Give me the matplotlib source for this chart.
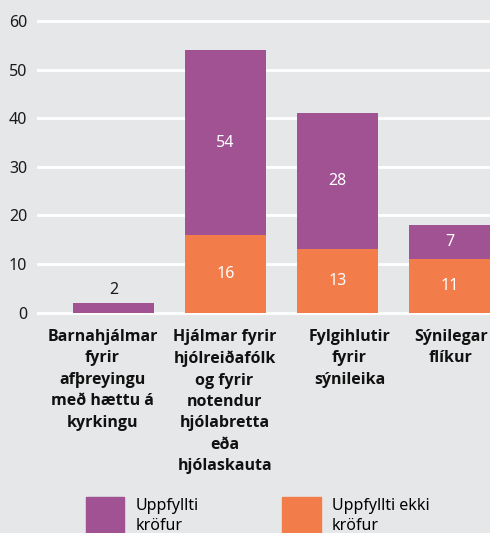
import matplotlib
matplotlib.use("Agg")
import matplotlib.pyplot as plt
import matplotlib.transforms as mtransforms
from matplotlib.patches import Patch

# gögn
categories = [
    "Barnahjálmar\nfyrir\nafþreyingu\nmeð hættu á\nkyrkingu",
    "Hjálmar fyrir\nhjólreiðafólk\nog fyrir\nnotendur\nhjólabretta\neða\nhjólaskauta",
    "Fylgihlutir\nfyrir\nsýnileika",
    "Sýnilegar\nflíkur",
]
ekki = [0, 16, 13, 11]          # Uppfyllti ekki kröfur
uppfyllti = [2, 38, 28, 7]      # Uppfyllti kröfur (hæð súlu)
ekki_labels = ["", "16", "13", "11"]
uppfyllti_labels = ["2", "54", "28", "7"]
yticks = [0, 10, 20, 30, 40, 50, 60]
legend_labels = ["Uppfyllti\nkröfur", "Uppfyllti ekki\nkröfur"]

PURPLE = "#a05292"
ORANGE = "#f37d4a"
BG = "#e6e7e8"
FS = 11.5

plt.rcParams["font.family"] = ["Noto Sans", "DejaVu Sans"]

fig = plt.figure(figsize=(4.9, 5.33), dpi=100, facecolor=BG)
ax = fig.add_axes([0.0755, 0.4088, 0.9245, 0.5563])
ax.set_facecolor(BG)

x = list(range(len(categories)))
w = 0.72
ax.bar(x, ekki, w, color=ORANGE, zorder=3)
ax.bar(x, uppfyllti, w, bottom=ekki, color=PURPLE, zorder=3)

for i in x:
    if ekki_labels[i]:
        ax.text(i, ekki[i] / 2, ekki_labels[i], ha="center", va="center",
                color="white", fontsize=FS, zorder=4)
    if ekki[i] == 0:
        ax.text(i, uppfyllti[i] + 1, uppfyllti_labels[i], ha="center", va="bottom",
                color="#1a1a1a", fontsize=FS, zorder=4)
    else:
        ax.text(i, ekki[i] + uppfyllti[i] / 2, uppfyllti_labels[i], ha="center",
                va="center", color="white", fontsize=FS, zorder=4)

ax.set_xlim(-0.683, 3.36)
ax.set_ylim(-0.5, 60.5)
ax.set_yticks(yticks)
ax.yaxis.grid(True, color="white", linewidth=2)
ax.set_axisbelow(True)
for s in ax.spines.values():
    s.set_visible(False)
ax.tick_params(axis="y", length=0, pad=7, labelsize=FS, labelcolor="#1a1a1a")
ax.tick_params(axis="x", length=0, pad=10)
ax.set_xticks(x)
ax.set_xticklabels(categories, fontsize=11.5, fontweight="bold", color="#111111",
                   family=["Open Sans", "DejaVu Sans"],
                   linespacing=1.45, va="top", ha="center")
# færa merkin örlítið eins og í frumritinu
shift_px = [-11, -1, 12, 1]
for lab, dx in zip(ax.get_xticklabels(), shift_px):
    lab.set_transform(lab.get_transform() +
                      mtransforms.ScaledTranslation(dx / 100, 0, fig.dpi_scale_trans))

handles = [Patch(color=PURPLE), Patch(color=ORANGE)]
leg = fig.legend(handles, legend_labels, loc="upper left",
                 bbox_to_anchor=(86 / 490, 1 - 497 / 533), ncol=2, frameon=False,
                 fontsize=FS, borderpad=0, borderaxespad=0, handlelength=2.4,
                 handleheight=3.6, handletextpad=0.7, columnspacing=5.25,
                 labelspacing=0)
for t in leg.get_texts():
    t.set_linespacing(1.35)

fig.savefig("out.png", dpi=100, facecolor=BG)
